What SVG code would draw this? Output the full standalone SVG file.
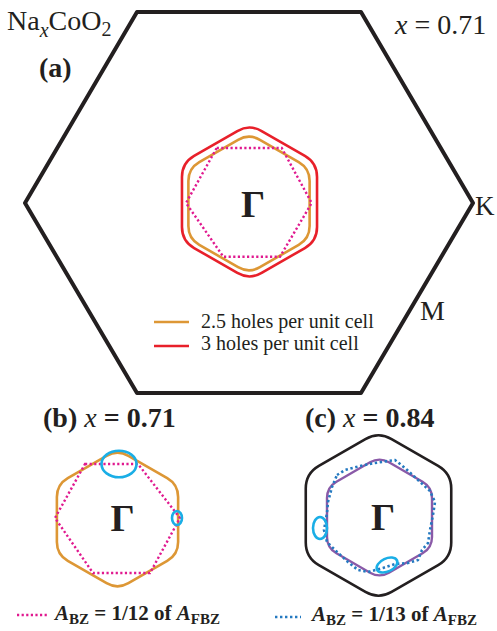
<svg xmlns="http://www.w3.org/2000/svg" width="497" height="631" viewBox="0 0 497 631">
<style>
.serif{font-family:"Liberation Serif","Times New Roman",serif;fill:#231f20}
.bold{font-weight:bold}
.it{font-style:italic}
.bz{fill:none;stroke:#231f20;stroke-linejoin:round}
.orange{fill:none;stroke:#dd9735;stroke-width:2.6}
.red{fill:none;stroke:#e8202a;stroke-width:2.6}
.mag{fill:none;stroke:#e0198f;stroke-width:2.4;stroke-dasharray:2.2 2.4}
.blue{fill:none;stroke:#2479c0;stroke-width:2.6;stroke-dasharray:2.4 2.6}
.purple{fill:none;stroke:#8a5aa8;stroke-width:2.4}
.cyan{fill:none;stroke:#1aaee6;stroke-width:2.6}
</style>
<defs>
<path id="rhex" d="M10.91,-63.7 L49.71,-41.3 Q60.62,-35 60.62,-22.4 L60.62,22.4 Q60.62,35 49.71,41.3 L10.91,63.7 Q0,70 -10.91,63.7 L-49.71,41.3 Q-60.62,35 -60.62,22.4 L-60.62,-22.4 Q-60.62,-35 -49.71,-41.3 L-10.91,-63.7 Q0,-70 10.91,-63.7 Z"/>
</defs>

<g id="panel-a">
  <polygon id="bz-a" class="bz" stroke-width="4" points="137,12 361,12 473,203 361,393 137,393 25,203"/>
  <text class="serif" x="7" y="30" font-size="28">Na<tspan class="it" font-size="20" dy="7">x</tspan><tspan dy="-7">CoO</tspan><tspan font-size="20" dy="6">2</tspan></text>
  <text class="serif bold" x="39" y="77" font-size="28">(a)</text>
  <text class="serif" x="395" y="34" font-size="28"><tspan class="it">x</tspan> = 0.71</text>
  <text class="serif" x="475" y="215" font-size="27">K</text>
  <text class="serif" x="420" y="320" font-size="28">M</text>
  <g id="fs-a">
    <path class="red" d="M12.15,-70.97 L55.38,-46.01 Q67.53,-38.99 67.53,-24.95 L67.53,24.95 Q67.53,38.99 55.38,46.01 L12.15,70.97 Q0,77.98 -12.15,70.97 L-55.38,46.01 Q-67.53,38.99 -67.53,24.95 L-67.53,-24.95 Q-67.53,-38.99 -55.38,-46.01 L-12.15,-70.97 Q0,-77.98 12.15,-70.97 Z" transform="translate(249.5,202)"/>
    <use href="#rhex" class="orange" transform="translate(249,203.5)"/>
    <polygon class="mag" points="216.7,148 281.7,148 311.7,203 280,256.7 223.3,256.7 186,203"/>
    <text class="serif bold" x="253" y="217" font-size="38" text-anchor="middle">Γ</text>
  </g>
  <g id="legend-a">
    <line x1="154" y1="322" x2="189" y2="322" stroke="#dd9735" stroke-width="2.6"/>
    <text class="serif" x="201" y="328" font-size="20">2.5 holes per unit cell</text>
    <line x1="154" y1="346" x2="189" y2="346" stroke="#e8202a" stroke-width="2.6"/>
    <text class="serif" x="201" y="350" font-size="20">3 holes per unit cell</text>
  </g>
</g>

<g id="panel-b">
  <text class="serif bold" x="43" y="427" font-size="28">(b) <tspan class="it" font-weight="normal">x</tspan> = 0.71</text>
  <use href="#rhex" class="orange" transform="translate(117.5,519.5)"/>
  <polygon class="mag" points="85,464 138,464 180,518 150,573 93,573 55,518"/>
  <ellipse class="cyan" cx="119" cy="464" rx="17.5" ry="13.3"/>
  <ellipse class="cyan" cx="177" cy="518" rx="5" ry="7"/>
  <text class="serif bold" x="122.5" y="531" font-size="38" text-anchor="middle">Γ</text>
  <g id="legend-b">
    <line class="mag" x1="17" y1="615" x2="48" y2="615"/>
    <text class="serif bold" x="55" y="620" font-size="21"><tspan class="it">A</tspan><tspan font-size="15" dy="4">BZ</tspan><tspan dy="-4"> = 1/12 of </tspan><tspan class="it">A</tspan><tspan font-size="15" dy="4">FBZ</tspan></text>
  </g>
</g>

<g id="panel-c">
  <text class="serif bold" x="305" y="427" font-size="28">(c) <tspan class="it" font-weight="normal">x</tspan> = 0.84</text>
  <path class="bz" stroke-width="2.6" d="M13.09,-76.44 L59.65,-49.56 Q72.74,-42 72.74,-26.88 L72.74,26.88 Q72.74,42 59.65,49.56 L13.09,76.44 Q0,84 -13.09,76.44 L-59.65,49.56 Q-72.74,42 -72.74,26.88 L-72.74,-26.88 Q-72.74,-42 -59.65,-49.56 L-13.09,-76.44 Q0,-84 13.09,-76.44 Z" transform="translate(378.5,515.5)"/>
  <path class="purple" d="M9.45,-55.17 L43.05,-35.77 Q52.5,-30.31 52.5,-19.4 L52.5,19.4 Q52.5,30.31 43.05,35.77 L9.45,55.17 Q0,60.62 -9.45,55.17 L-43.05,35.77 Q-52.5,30.31 -52.5,19.4 L-52.5,-19.4 Q-52.5,-30.31 -43.05,-35.77 L-9.45,-55.17 Q0,-60.62 9.45,-55.17 Z" transform="translate(379.5,517.5)"/>
  <path class="blue" d="M337,475 L345,470 L360,466 L375,463 L388,461 L395,460 L405,468 L418,480 L430,491 L435,502 L433,515 L430,530 L428,543 L422,550 L418,560 L408,563 L395,564 L383,568 L368,572 L358,570 L348,562 L335,550 L327,542 L324,530 L327,513 L328,502 L332,487 Z"/>
  <ellipse class="cyan" cx="320" cy="528" rx="7" ry="11"/>
  <ellipse class="cyan" cx="387" cy="565" rx="11" ry="6.5" transform="rotate(-25 387 565)"/>
  <text class="serif bold" x="383" y="530" font-size="38" text-anchor="middle">Γ</text>
  <g id="legend-c">
    <line class="blue" x1="275" y1="617" x2="301" y2="617"/>
    <text class="serif bold" x="312" y="621" font-size="21"><tspan class="it">A</tspan><tspan font-size="15" dy="4">BZ</tspan><tspan dy="-4"> = 1/13 of </tspan><tspan class="it">A</tspan><tspan font-size="15" dy="4">FBZ</tspan></text>
  </g>
</g>
</svg>
